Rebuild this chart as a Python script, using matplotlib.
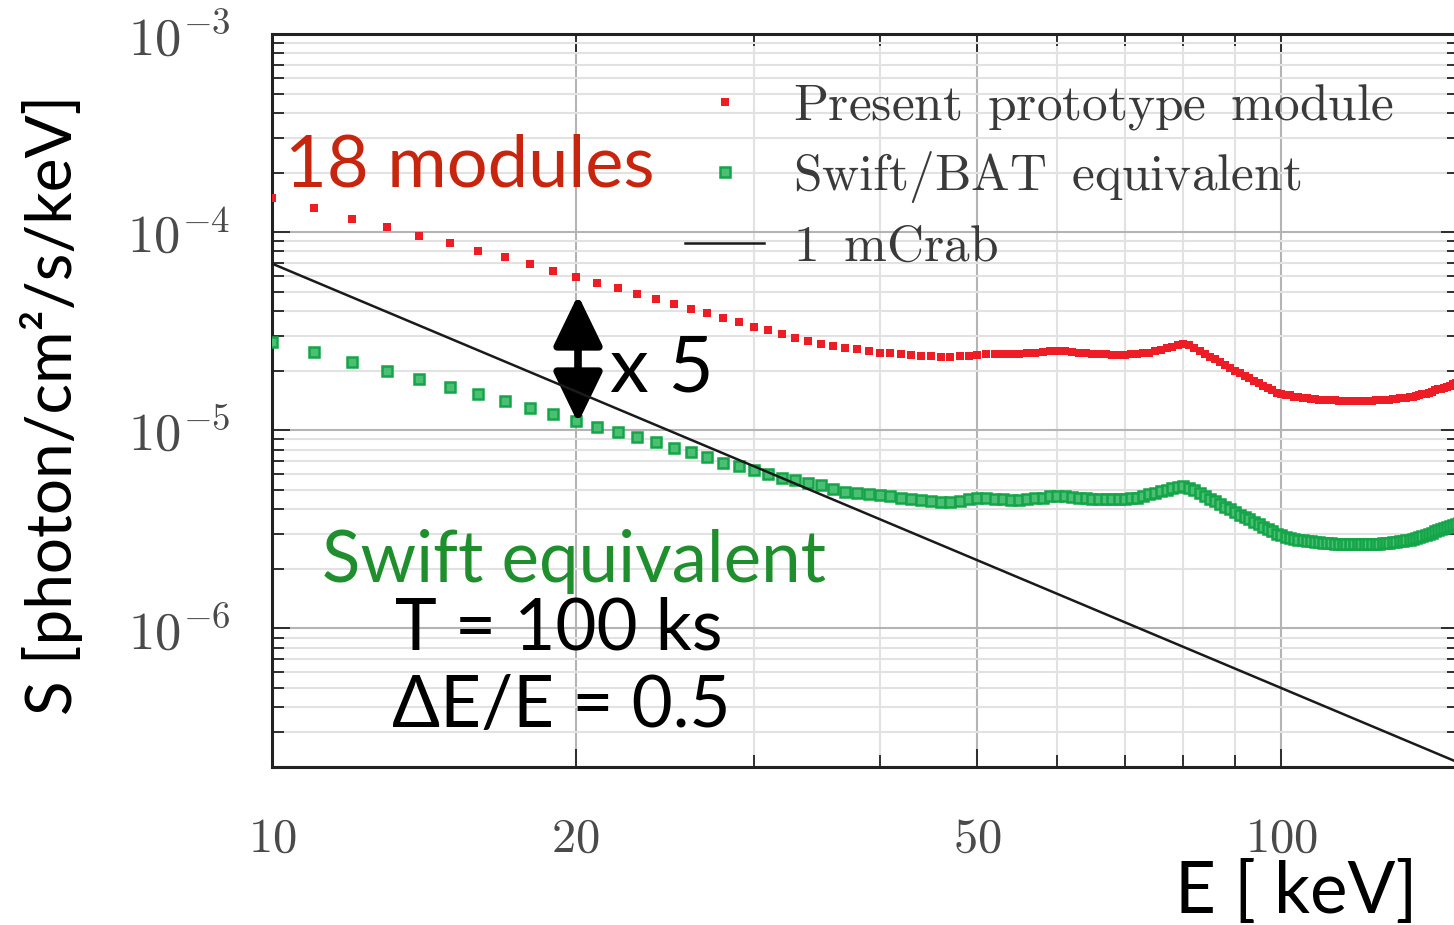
import numpy as np
import matplotlib
matplotlib.use("Agg")
import matplotlib.pyplot as plt
from matplotlib.ticker import FixedLocator, FixedFormatter, NullFormatter, LogLocator

plt.rcParams["mathtext.fontset"] = "cm"

# energy grid of the sensitivity curves [keV]
energy = np.arange(10, 151)

# 18 prototype modules, in units of 1e-5 photon/cm2/s/keV
prototype_1e5 = [
    14.8, 13.2, 11.7, 10.6, 9.58, 8.77, 8.04, 7.45, 6.87, 6.37, 5.94,
    5.52, 5.21, 4.86, 4.58, 4.32, 4.08, 3.89, 3.67, 3.51, 3.34,
    3.19, 3.05, 2.93, 2.83, 2.74, 2.65, 2.59, 2.56, 2.50, 2.47,
    2.46, 2.44, 2.41, 2.38, 2.36, 2.34, 2.34, 2.36, 2.38, 2.41,
    2.43, 2.43, 2.43, 2.43, 2.44, 2.45, 2.47, 2.49, 2.50, 2.51,
    2.50, 2.49, 2.47, 2.45, 2.44, 2.43, 2.42, 2.41, 2.41, 2.41,
    2.43, 2.44, 2.45, 2.47, 2.50, 2.54, 2.59, 2.63, 2.68, 2.74,
    2.68, 2.59, 2.51, 2.43, 2.34, 2.28, 2.20, 2.14, 2.07, 2.00,
    1.94, 1.89, 1.84, 1.78, 1.73, 1.68, 1.64, 1.59, 1.55, 1.52,
    1.51, 1.50, 1.48, 1.47, 1.46, 1.45, 1.44, 1.44, 1.43, 1.43,
    1.42, 1.42, 1.42, 1.41, 1.41, 1.41, 1.41, 1.41, 1.41, 1.41,
    1.41, 1.41, 1.41, 1.42, 1.42, 1.42, 1.43, 1.43, 1.44, 1.44,
    1.45, 1.46, 1.46, 1.47, 1.48, 1.49, 1.50, 1.52, 1.53, 1.55,
    1.57, 1.59, 1.61, 1.62, 1.64, 1.66, 1.68, 1.71, 1.73, 1.76,
]

# Swift/BAT equivalent, in units of 1e-6 photon/cm2/s/keV
swift_1e6 = [
    27.9, 24.8, 22.2, 20.0, 18.2, 16.6, 15.3, 14.0, 13.0, 12.1, 11.2,
    10.4, 9.76, 9.21, 8.69, 8.13, 7.73, 7.30, 6.88, 6.59, 6.29,
    6.01, 5.74, 5.61, 5.45, 5.31, 5.05, 4.91, 4.80, 4.76, 4.72,
    4.67, 4.57, 4.51, 4.43, 4.38, 4.37, 4.37, 4.40, 4.48, 4.54,
    4.53, 4.51, 4.48, 4.45, 4.44, 4.48, 4.53, 4.58, 4.64, 4.67,
    4.64, 4.60, 4.56, 4.53, 4.51, 4.49, 4.48, 4.48, 4.49, 4.49,
    4.53, 4.58, 4.67, 4.75, 4.83, 4.92, 5.01, 5.10, 5.19, 5.25,
    5.13, 4.97, 4.81, 4.66, 4.51, 4.38, 4.24, 4.11, 3.99, 3.88,
    3.76, 3.65, 3.55, 3.45, 3.35, 3.26, 3.17, 3.09, 3.01, 2.95,
    2.91, 2.87, 2.84, 2.81, 2.79, 2.77, 2.75, 2.74, 2.72, 2.71,
    2.70, 2.69, 2.68, 2.67, 2.67, 2.66, 2.66, 2.66, 2.66, 2.66,
    2.66, 2.66, 2.67, 2.67, 2.68, 2.69, 2.70, 2.71, 2.72, 2.73,
    2.75, 2.77, 2.79, 2.81, 2.84, 2.87, 2.90, 2.93, 2.97, 3.01,
    3.05, 3.09, 3.13, 3.17, 3.21, 3.25, 3.29, 3.33, 3.37, 3.41,
]

# 1 mCrab reference line (end points)
mcrab_energy = [10, 150]
mcrab_flux = [6.94e-5, 2.1e-7]

x_major = [10, 20, 50, 100]
x_minor = [30, 40, 60, 70, 80, 90]
x_labels = ["$10$", "$20$", "$50$", "$100$"]
y_major = [1e-6, 1e-5, 1e-4, 1e-3]
y_labels = [r"$10^{-6}$", r"$10^{-5}$", r"$10^{-4}$", r"$10^{-3}$"]

prototype = np.array(prototype_1e5) * 1e-5
swift = np.array(swift_1e6) * 1e-6

W, H = 1454, 925
fig = plt.figure(figsize=(W / 100, H / 100), dpi=100)


def px(x, y):
    # pixel position (from top-left) -> figure fraction
    return x / W, 1 - y / H


ax = fig.add_axes([272 / W, 1 - 767 / H, (1459 - 272) / W, (767 - 34) / H])
ax.set_xscale("log")
ax.set_yscale("log")
ax.set_xlim(10, 150)
ax.set_ylim(2e-7, 1e-3)

ax.plot(energy, prototype, ls="none", marker="s", ms=6.3, mew=0,
        color="#ee1c24", label=r"$\mathrm{Present\;\;prototype\;\;module}$", zorder=3)
ax.plot(energy, swift, ls="none", marker="s", ms=7.0, mew=1.8,
        mfc="#4cbf74", mec="#14a548", label=r"$\mathrm{Swift/BAT\;\;equivalent}$", zorder=3)
ax.plot(mcrab_energy, mcrab_flux, color="#1a1a1a", lw=1.8,
        label=r"$\mathrm{1\;\;mCrab}$", zorder=4)

# ticks and grid
ax.xaxis.set_major_locator(FixedLocator(x_major))
ax.xaxis.set_major_formatter(FixedFormatter(x_labels))
ax.xaxis.set_minor_locator(FixedLocator(x_minor))
ax.xaxis.set_minor_formatter(NullFormatter())
ax.yaxis.set_major_locator(FixedLocator(y_major))
ax.yaxis.set_major_formatter(FixedFormatter(y_labels))
ax.yaxis.set_minor_locator(LogLocator(base=10, subs=np.arange(2, 10), numticks=20))
ax.yaxis.set_minor_formatter(NullFormatter())

ax.tick_params(which="both", direction="in", top=True, right=True,
               colors="#222222", labelcolor="#4a4a4a")
ax.tick_params(which="major", length=13, width=1.3)
ax.tick_params(which="minor", length=8.5, width=1.3)
ax.tick_params(axis="x", pad=34, labelsize=35)
ax.tick_params(axis="y", pad=30, labelsize=38)

ax.grid(which="major", color="#b4b4b4", lw=1.5)
ax.grid(which="minor", color="#e2e2e2", lw=1.5)
ax.set_axisbelow(True)
for s in ax.spines.values():
    s.set_linewidth(2.2)
    s.set_color("#222222")

leg = ax.legend(loc="upper left", bbox_to_anchor=px(659, 55), bbox_transform=fig.transFigure,
                frameon=False, fontsize=37, handlelength=1.55, handletextpad=0.55,
                labelspacing=0.33, borderpad=0, numpoints=1, markerscale=1.0)
for t in leg.get_texts():
    t.set_color("#3a3a3a")

# annotations
big = "Lato"
fig.text(*px(52, 405), "S [photon/cm²/s/keV]", rotation=90, ha="center", va="center",
         fontsize=46, family=big, color="black")
fig.text(*px(1175, 913), "E [ keV]", ha="left", va="baseline", fontsize=51, family=big)
fig.text(*px(285, 187), "18 modules", ha="left", va="baseline", fontsize=52,
         family=big, color="#c8250f")
fig.text(*px(322, 582), "Swift equivalent", ha="left", va="baseline", fontsize=51,
         family=big, color="#1f8f2e")
fig.text(*px(395, 650), "T = 100 ks", ha="left", va="baseline", fontsize=51, family=big)
fig.text(*px(392, 727), "ΔE/E = 0.5", ha="left", va="baseline", fontsize=51, family=big)
fig.text(*px(610, 392), "x 5", ha="left", va="baseline", fontsize=56, family=big)

ax.annotate("", xy=px(578, 423), xytext=px(578, 295), xycoords="figure fraction",
            textcoords="figure fraction",
            arrowprops=dict(arrowstyle="<|-|>,head_length=31,head_width=15",
                            mutation_scale=1, color="black", lw=5.5,
                            shrinkA=0, shrinkB=0))

fig.savefig("out.png", dpi=100)
